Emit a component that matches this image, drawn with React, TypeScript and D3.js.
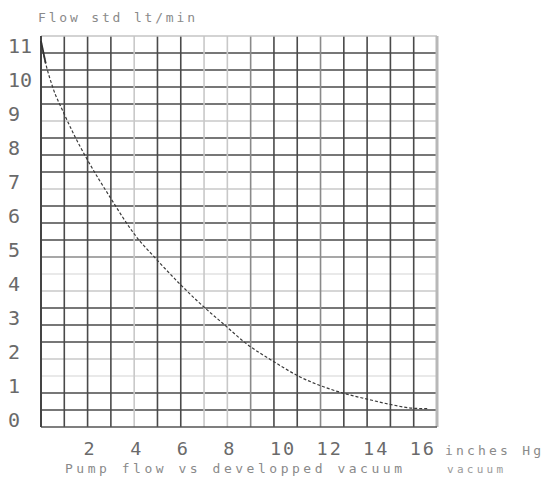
import React from "react";
import * as d3 from "d3";

// ---- data ----
const xTickValues = [2, 4, 6, 8, 10, 12, 14, 16];
const yTickValues = [0, 1, 2, 3, 4, 5, 6, 7, 8, 9, 10, 11];
const xGridValues = [1, 2, 3, 4, 5, 6, 7, 8, 9, 10, 11, 12, 13, 14, 15, 16];
const yGridValues = [0.5, 1, 1.5, 2, 2.5, 3, 3.5, 4, 4.5, 5, 5.5, 6, 6.5, 7, 7.5, 8, 8.5, 9, 9.5, 10, 10.5, 11];
const flowX = [0, 0.2, 0.5, 1, 1.4, 2, 3, 4, 5, 6, 6.8, 7.8, 8.8, 10, 11.1, 12.1, 13, 14, 15.1, 16, 16.6];
const flowY = [11.35, 10.7, 10.0, 9.2, 8.62, 7.85, 6.72, 5.68, 4.9, 4.18, 3.65, 3.05, 2.46, 1.92, 1.48, 1.19, 0.99, 0.82, 0.65, 0.55, 0.54];
const yTitle = "Flow std lt/min";
const xTitle = "Pump flow vs developped vacuum";
const unitLine1 = "inches Hg";
const unitLine2 = "vacuum";

// ---- styles (scanned grid has uneven line strength) ----
const vTone: Record<number, string> = { 4: "light", 7: "light", 8: "light", 9: "mid", 12: "mid" };
const hTone: Record<number, string> = { 1.5: "faint", 2: "light", 4: "light", 4.5: "faint", 5: "mid", 7: "light", 9: "light" };
const toneColor: Record<string, string> = { dark: "#4a4a4a", mid: "#8a8a8a", light: "#c8c8c8", faint: "#e2e2e2" };

const W = 544;
const H = 484;
const FONT = "'DejaVu Sans Mono', monospace";

export default function App() {
  const x = d3.scaleLinear().domain([0, 17]).range([41, 437]);
  const y = d3.scaleLinear().domain([0, 11.5]).range([427, 36]);
  const pts = flowX.map((v, i) => [v, flowY[i]] as [number, number]);
  const line = d3
    .line<[number, number]>()
    .x((d) => x(d[0]))
    .y((d) => y(d[1]))
    .curve(d3.curveMonotoneX);

  return (
    <svg width={W} height={H} style={{ position: "absolute", left: 0, top: 0, background: "#fff" }}>
      {/* horizontal grid */}
      {yGridValues.map((v) => {
        const tone = hTone[v] || "dark";
        return (
          <line key={"h" + v} x1={x(0)} x2={x(17)} y1={y(v)} y2={y(v)} stroke={toneColor[tone]} strokeWidth={1.6} />
        );
      })}
      {/* vertical grid */}
      {xGridValues.map((v) => {
        const tone = vTone[v] || "dark";
        return (
          <line key={"v" + v} x1={x(v)} x2={x(v)} y1={y(11.5)} y2={y(0)} stroke={toneColor[tone]} strokeWidth={1.6} />
        );
      })}
      {/* borders */}
      <line x1={x(0)} x2={x(17)} y1={y(11.5)} y2={y(11.5)} stroke="#c4c4c4" strokeWidth={1.5} />
      <line x1={x(17)} x2={x(17)} y1={y(11.5)} y2={y(0)} stroke="#b8b8b8" strokeWidth={3} />
      <line x1={x(0)} x2={x(17)} y1={y(0)} y2={y(0)} stroke="#555" strokeWidth={1.6} />
      <line x1={x(0)} x2={x(0)} y1={y(11.5)} y2={y(0)} stroke="#444" strokeWidth={2} />

      {/* curve */}
      <path d={line(pts) || ""} fill="none" stroke="#3a3a3a" strokeWidth={1.2} strokeDasharray="3 2" />
      <path d={line(pts.slice(0, 2)) || ""} fill="none" stroke="#333" strokeWidth={1.8} />

      {/* y tick labels */}
      {yTickValues.map((v) => (
        <text key={"yt" + v} x={8} y={y(v)} fontFamily={FONT} fontSize={20} fill="#6a6a6a">
          {v}
        </text>
      ))}
      {/* x tick labels */}
      {xTickValues.map((v) => (
        <text key={"xt" + v} x={x(v) - 4} y={455} fontFamily={FONT} fontSize={18.5} fill="#6a6a6a" letterSpacing={2}>
          {v}
        </text>
      ))}
      {/* titles */}
      <text x={38} y={22} fontFamily={FONT} fontSize={13} fill="#8a8a8a" textLength={157} lengthAdjust="spacing">
        {yTitle}
      </text>
      <text x={65} y={473} fontFamily={FONT} fontSize={13} fill="#8a8a8a" textLength={337} lengthAdjust="spacing">
        {xTitle}
      </text>
      <text x={445} y={455} fontFamily={FONT} fontSize={13} fill="#8a8a8a" textLength={96} lengthAdjust="spacing">
        {unitLine1}
      </text>
      <text x={447} y={473} fontFamily={FONT} fontSize={11} fill="#9a9a9a" textLength={56} lengthAdjust="spacing">
        {unitLine2}
      </text>
    </svg>
  );
}
